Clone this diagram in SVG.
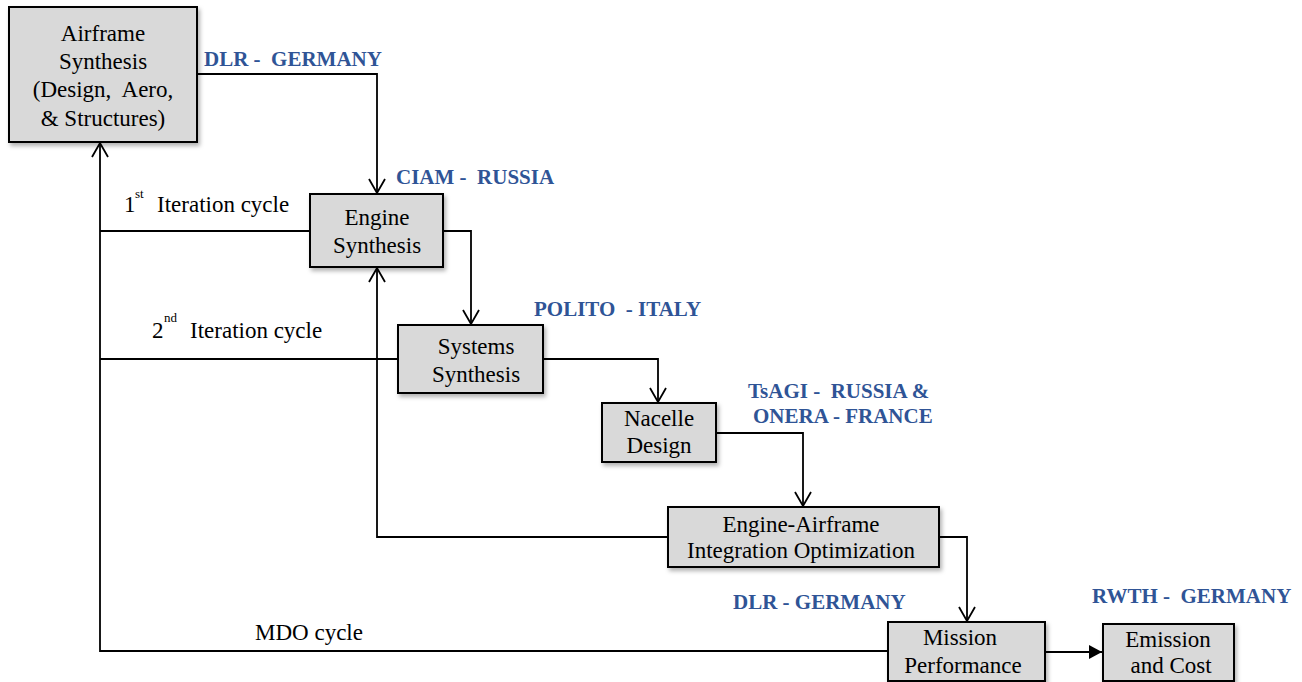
<svg xmlns="http://www.w3.org/2000/svg" width="1302" height="682" viewBox="0 0 1302 682">
<style>
.box{fill:#D9D9D9;stroke:#000;stroke-width:2;filter:url(#sh)}
.t{font-family:"Liberation Serif","Times New Roman",serif;font-size:23px;fill:#000;text-anchor:middle}
.l{font-family:"Liberation Serif","Times New Roman",serif;font-size:23px;fill:#000}
.s{font-family:"Liberation Serif","Times New Roman",serif;font-size:13px;fill:#000}
.b{font-family:"Liberation Serif","Times New Roman",serif;font-size:21px;font-weight:bold;fill:#2F5496;white-space:pre}
.c{fill:none;stroke:#000;stroke-width:1.8}
</style>
<defs>
<filter id="sh" x="-10%" y="-10%" width="130%" height="140%">
<feDropShadow dx="2" dy="3" stdDeviation="2" flood-color="#000" flood-opacity="0.3"/>
</filter>
<marker id="open" markerUnits="userSpaceOnUse" markerWidth="20" markerHeight="20" viewBox="-16 -10 20 20" refX="0" refY="0" orient="auto">
<path d="M-14,-8 L0,0 L-14,8" fill="none" stroke="#000" stroke-width="1.8"/>
</marker>
<marker id="fill" markerUnits="userSpaceOnUse" markerWidth="20" markerHeight="20" viewBox="-16 -10 20 20" refX="0" refY="0" orient="auto">
<path d="M-13,-7 L0,0 L-13,7 Z" fill="#000"/>
</marker>
</defs>

<g id="connectors">
<path class="c" d="M197,74 H377 V193" marker-end="url(#open)"/>
<path class="c" d="M443,231 H471 V324" marker-end="url(#open)"/>
<path class="c" d="M543,359 H658 V402" marker-end="url(#open)"/>
<path class="c" d="M716,433 H803 V506" marker-end="url(#open)"/>
<path class="c" d="M939,537 H967 V621" marker-end="url(#open)"/>
<path class="c" d="M1045,652 H1102" marker-end="url(#fill)"/>
<path class="c" d="M668,537 H377 V268" marker-end="url(#open)"/>
<path class="c" d="M310,231 H100"/>
<path class="c" d="M398,359 H100"/>
<path class="c" d="M888,651 H100 V143" marker-end="url(#open)"/>
</g>

<g id="airframe">
<rect class="box" x="9" y="7" width="188" height="135"/>
<text class="t" x="103" y="41">Airframe</text>
<text class="t" x="103" y="69">Synthesis</text>
<text class="t" x="103" y="97" style="white-space:pre">(Design,  Aero,</text>
<text class="t" x="103" y="126">&amp; Structures)</text>
</g>

<g id="engine">
<rect class="box" x="310" y="194" width="133" height="73"/>
<text class="t" x="377" y="225">Engine</text>
<text class="t" x="377" y="253">Synthesis</text>
</g>

<g id="systems">
<rect class="box" x="398" y="325" width="145" height="68"/>
<text class="t" x="476" y="354">Systems</text>
<text class="t" x="476" y="382">Synthesis</text>
</g>

<g id="nacelle">
<rect class="box" x="602" y="403" width="114" height="59"/>
<text class="t" x="659" y="426">Nacelle</text>
<text class="t" x="659" y="453">Design</text>
</g>

<g id="integration">
<rect class="box" x="668" y="507" width="271" height="60"/>
<text class="t" x="801" y="532">Engine-Airframe</text>
<text class="t" x="801" y="558">Integration Optimization</text>
</g>

<g id="mission">
<rect class="box" x="888" y="622" width="157" height="59"/>
<text class="t" x="960" y="645">Mission</text>
<text class="t" x="963" y="673">Performance</text>
</g>

<g id="emission">
<rect class="box" x="1103" y="624" width="131" height="57"/>
<text class="t" x="1168" y="647">Emission</text>
<text class="t" x="1171" y="673">and Cost</text>
</g>

<g id="labels">
<text class="b" x="204" y="66">DLR -  GERMANY</text>
<text class="b" x="396" y="184">CIAM -  RUSSIA</text>
<text class="b" x="534" y="316">POLITO  - ITALY</text>
<text class="b" x="748" y="398">TsAGI -  RUSSIA &amp;</text>
<text class="b" x="753" y="423">ONERA - FRANCE</text>
<text class="b" x="733" y="609">DLR - GERMANY</text>
<text class="b" x="1092" y="603">RWTH -  GERMANY</text>

<text class="l" x="124" y="212">1</text>
<text class="s" x="135" y="198">st</text>
<text class="l" x="157" y="212">Iteration cycle</text>

<text class="l" x="152" y="338">2</text>
<text class="s" x="164" y="322">nd</text>
<text class="l" x="190" y="338">Iteration cycle</text>

<text class="l" x="255" y="640">MDO cycle</text>
</g>
</svg>
